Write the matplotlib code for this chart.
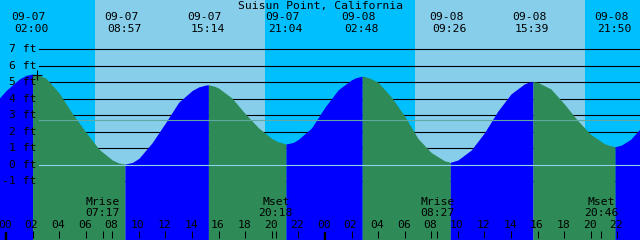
import numpy as np
import matplotlib.pyplot as plt

# Tide heights (hours since 09-07 00:00, feet)
horas = [-1, 0, 1, 1.5, 2.0, 2.5, 3, 4, 5, 6, 7, 8, 8.5, 8.95, 9.5, 10, 11, 12,
         13, 14, 14.5, 15, 15.23, 15.7, 16, 17, 18, 19, 20, 20.5, 21.07, 21.6,
         22, 23, 24, 25, 26, 26.3, 26.8, 27, 27.4, 28, 29, 30, 31, 32, 33,
         33.43, 34, 35, 36, 37, 38, 39, 39.3, 39.65, 40, 41, 42, 43, 44, 45,
         45.4, 45.83, 46.3, 47, 48]
alturas = [3.6, 4.5, 5.2, 5.42, 5.5, 5.43, 5.25, 4.35, 3.1, 2.0, 0.95, 0.3, 0.12,
           0.05, 0.15, 0.4, 1.35, 2.55, 3.8, 4.5, 4.72, 4.83, 4.85, 4.76, 4.65,
           4.05, 3.1, 2.25, 1.6, 1.4, 1.27, 1.36, 1.55, 2.25, 3.5, 4.55, 5.15,
           5.27, 5.37, 5.35, 5.24, 5.0, 4.1, 2.95, 1.6, 0.75, 0.25, 0.16, 0.3,
           0.9, 1.95, 3.25, 4.3, 4.9, 5.0, 5.05, 5.0, 4.6, 3.7, 2.7, 1.85, 1.3,
           1.18, 1.1, 1.2, 1.55, 2.45]

# High / low tides
ev_horas = [2.0, 8.95, 15.23, 21.07, 26.8, 33.43, 39.65, 45.83]
ev_fecha = ['09-07', '09-07', '09-07', '09-07', '09-08', '09-08', '09-08', '09-08']
ev_hora = ['02:00', '08:57', '15:14', '21:04', '02:48', '09:26', '15:39', '21:50']

# Sunrise / sunset
sol_salida = [6.7, 30.77]
sol_puesta = [19.49, 43.57]

# Moon
luna_horas = [7.28, 20.3, 32.45, 44.77]
luna_tipo = ['Mrise', 'Mset', 'Mrise', 'Mset']
luna_txt = ['07:17', '20:18', '08:27', '20:46']

niveles = [-1, 0, 1, 2, 3, 4, 5, 6, 7]
nivel_medio = 2.7
marca_t, marca_h = 2.37, 5.47

titulo = 'Suisun Point, California'

t = np.array(horas)
h = np.array(alturas)

pxh = 13.29  # pixels per hour
x0, x1 = -6 / pxh, 634 / pxh
y0, y1 = -4.54, 9.98

fig = plt.figure(figsize=(6.4, 2.4), dpi=100)
ax = fig.add_axes([0, 0, 1, 1])
ax.set_xlim(x0, x1)
ax.set_ylim(y0, y1)
ax.set_axis_off()

noche = '#00bfff'
dia = '#87ceeb'
sube = '#0000ff'
baja = '#2e8b57'
fuente = dict(family='DejaVu Sans Mono', fontsize=8.2, color='black')

# background day / night
ax.axvspan(x0, sol_salida[0], color=noche, lw=0, zorder=0)
ax.axvspan(sol_salida[0], sol_puesta[0], color=dia, lw=0, zorder=0)
ax.axvspan(sol_puesta[0], sol_salida[1], color=noche, lw=0, zorder=0)
ax.axvspan(sol_salida[1], sol_puesta[1], color=dia, lw=0, zorder=0)
ax.axvspan(sol_puesta[1], x1, color=noche, lw=0, zorder=0)

# grid lines
for n in niveles:
    ax.axhline(n, xmin=39 / 640, color='black', lw=0.8, zorder=1)
    ax.text(36.5 / 640, n, f'{n} ft', transform=ax.get_yaxis_transform(),
            ha='right', va='center', zorder=5, **fuente)

# tide fill: blue rising, green falling
limites = [t[0]] + ev_horas + [t[-1]]
for a, b in zip(limites[:-1], limites[1:]):
    m = (t >= a) & (t <= b)
    col = sube if h[m][-1] > h[m][0] else baja
    ax.fill_between(t[m], h[m], y0, color=col, lw=0, zorder=2)

ax.axhline(0, xmin=39 / 640, color='#8fd3e8', lw=0.8, zorder=3)
ax.axhline(nivel_medio, xmin=39 / 640, color='#5fa8a4', lw=0.8, zorder=3)

ax.plot(marca_t, marca_h, '+', color='black', ms=7, mew=0.8, zorder=5)

# title and tide labels
ax.text(0.5, 1 - 6 / 240, titulo, transform=ax.transAxes, ha='center',
        va='center', **fuente)
xt = ax.get_xaxis_transform()
for tt, f, s in zip(ev_horas, ev_fecha, ev_hora):
    ax.annotate(f, (tt, 1 - 17.5 / 240), xycoords=xt, xytext=(-4, 0),
                textcoords='offset pixels', ha='center', va='center', **fuente)
    ax.annotate(s, (tt, 1 - 29 / 240), xycoords=xt, xytext=(-1, 0),
                textcoords='offset pixels', ha='center', va='center', **fuente)

# moon events
for tt, k, s in zip(luna_horas, luna_tipo, luna_txt):
    ax.text(tt, 1 - 202 / 240, k, transform=xt, ha='center', va='center', **fuente)
    ax.text(tt, 1 - 213.5 / 240, s, transform=xt, ha='center', va='center', **fuente)
    ax.vlines(tt, 1.7 / 240, 9.3 / 240, transform=xt, color='black', lw=0.75, zorder=5)

# hour axis
for hh in range(0, 48, 2):
    ax.annotate(f'{hh % 24:02d}', (hh, 1 - 225.5 / 240), xycoords=xt,
                xytext=(-1, 0), textcoords='offset pixels', ha='center',
                va='center', **fuente)
    if hh % 24 == 0:
        ax.vlines(hh, 0, 8.5 / 240, transform=xt, color='black', lw=1.7, zorder=5)
    else:
        ax.vlines(hh, 1.7 / 240, 9.3 / 240, transform=xt, color='black', lw=0.75, zorder=5)

fig.savefig('out.png', dpi=100)
